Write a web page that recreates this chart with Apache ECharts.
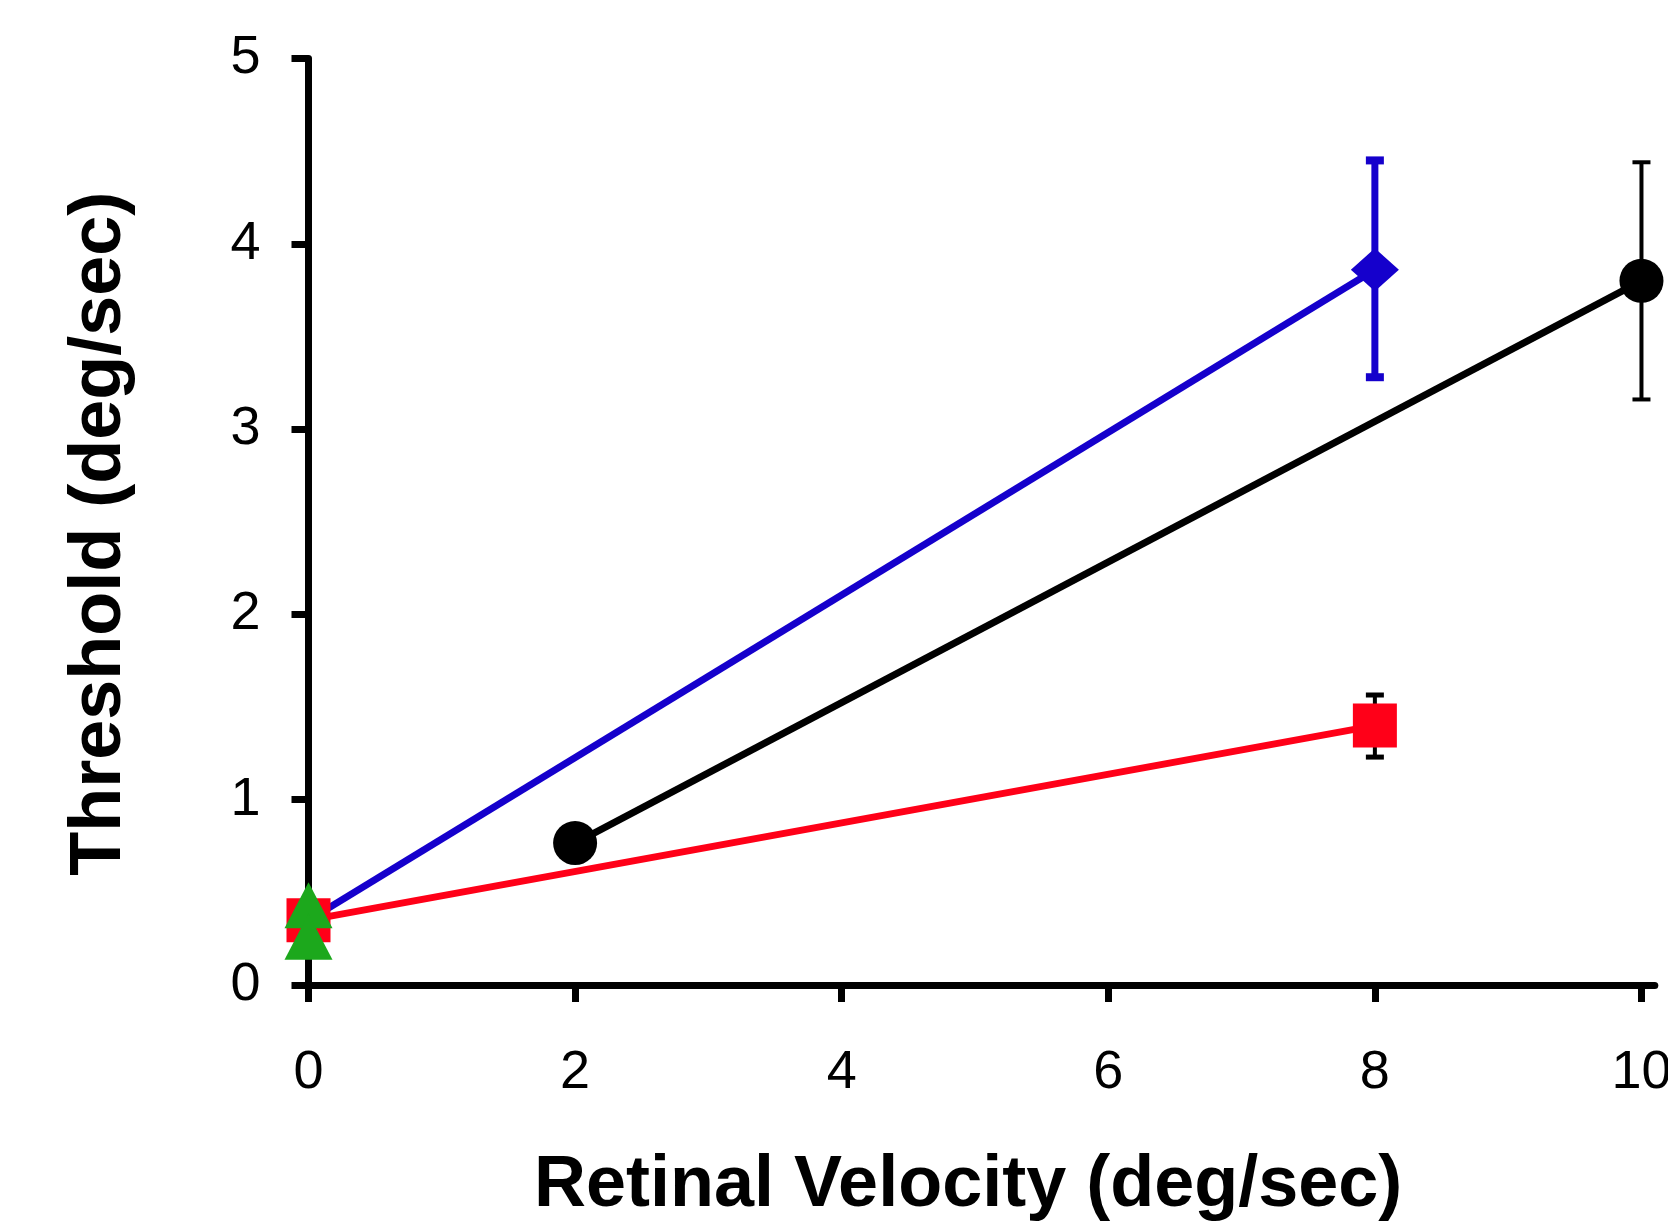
<!DOCTYPE html>
<html>
<head>
<meta charset="utf-8">
<script src="https://cdn.jsdelivr.net/npm/echarts@6/dist/echarts.min.js"></script>
<style>
html,body{margin:0;padding:0;background:#fff;}
#chart{width:1668px;height:1225px;}
</style>
</head>
<body>
<div id="chart"></div>
<script>
// ---- data ----
const xTicks = [0, 2, 4, 6, 8, 10];
const yTicks = [0, 1, 2, 3, 4, 5];

const blueX = [0, 8];
const blueY = [0.35, 3.86];
const blueErr = [[8, 3.28, 4.45]];

const blackX = [2, 10];
const blackY = [0.766, 3.80];
const blackErr = [[10, 3.16, 4.44]];

const redX = [0, 8];
const redY = [0.35, 1.40];
const redErr = [[8, 1.23, 1.565]];

const greenX = [0, 0];
const greenY = [0.43, 0.26];

const xName = 'Retinal Velocity (deg/sec)';
const yName = 'Threshold (deg/sec)';

const BLUE = '#1500cc';
const RED = '#ff0018';
const GREEN = '#1ca81c';
const BLACK = '#000000';
const FONT = '"Liberation Sans", Arial, sans-serif';

function pairs(xs, ys) { return xs.map((x, i) => [x, ys[i]]); }

function errorSeries(data, color, width, capW, capH) {
  return {
    type: 'custom',
    z: 1,
    data: data,
    silent: true,
    renderItem: function (params, api) {
      const x = api.value(0), lo = api.value(1), hi = api.value(2);
      const pLo = api.coord([x, lo]);
      const pHi = api.coord([x, hi]);
      const st = { stroke: color, lineWidth: width, lineCap: 'butt' };
      const cs = { stroke: color, lineWidth: capH, lineCap: 'butt' };
      return {
        type: 'group',
        children: [
          { type: 'line', shape: { x1: pLo[0], y1: pLo[1], x2: pHi[0], y2: pHi[1] }, style: st },
          { type: 'line', shape: { x1: pHi[0] - capW / 2, y1: pHi[1], x2: pHi[0] + capW / 2, y2: pHi[1] }, style: cs },
          { type: 'line', shape: { x1: pLo[0] - capW / 2, y1: pLo[1], x2: pLo[0] + capW / 2, y2: pLo[1] }, style: cs }
        ]
      };
    }
  };
}

const chart = echarts.init(document.getElementById('chart'), null, { renderer: 'canvas' });

const blueData = pairs(blueX, blueY).map((p, i) => i === 0 ? { value: p, symbol: 'none' } : p);

chart.setOption({
  animation: false,
  backgroundColor: '#ffffff',
  textStyle: { fontFamily: FONT },
  grid: { left: 308.5, right: 13.2, top: 58.5, bottom: 240, containLabel: false, outerBoundsMode: 'none' },
  xAxis: {
    type: 'value',
    min: 0,
    max: 10.1,
    interval: 2,
    name: xName,
    nameLocation: 'middle',
    nameGap: 165,
    nameTextStyle: { fontFamily: FONT, fontWeight: 'bold', fontSize: 72, color: '#000', padding: [0, 27, 0, 0] },
    axisLine: { show: true, onZero: false, lineStyle: { color: '#000', width: 7 } },
    axisTick: { show: true, inside: false, length: 17, lineStyle: { color: '#000', width: 7 }, customValues: xTicks },
    axisLabel: { show: true, margin: 61, fontSize: 54, color: '#000', fontFamily: FONT, customValues: xTicks },
    splitLine: { show: false }
  },
  yAxis: {
    type: 'value',
    min: 0,
    max: 5,
    interval: 1,
    name: yName,
    nameLocation: 'middle',
    nameGap: 172,
    nameRotate: 90,
    nameTextStyle: { fontFamily: FONT, fontWeight: 'bold', fontSize: 72, color: '#000', padding: [0, 24, 0, 0] },
    axisLine: { show: true, onZero: false, lineStyle: { color: '#000', width: 7 } },
    axisTick: { show: true, inside: false, length: 17, lineStyle: { color: '#000', width: 7 }, customValues: yTicks },
    axisLabel: { show: true, margin: 48, fontSize: 54, color: '#000', fontFamily: FONT, customValues: yTicks },
    splitLine: { show: false }
  },
  series: [
    errorSeries(blueErr, BLUE, 7, 18, 8),
    errorSeries(blackErr, BLACK, 4, 18, 4),
    errorSeries(redErr, BLACK, 4, 18, 5),
    {
      type: 'line', z: 2, data: pairs(redX, redY),
      symbol: 'rect', symbolSize: 44,
      lineStyle: { color: RED, width: 7 },
      itemStyle: { color: RED, opacity: 1 },
      silent: true
    },
    {
      type: 'line', z: 2, data: blueData,
      symbol: 'diamond', symbolSize: [48, 43],
      lineStyle: { color: BLUE, width: 7 },
      itemStyle: { color: BLUE, opacity: 1 },
      silent: true
    },
    {
      type: 'line', z: 2, data: pairs(blackX, blackY),
      symbol: 'circle', symbolSize: 44,
      lineStyle: { color: BLACK, width: 7 },
      itemStyle: { color: BLACK, opacity: 1 },
      silent: true
    },
    {
      type: 'scatter', z: 3, data: pairs(greenX, greenY),
      symbol: 'triangle', symbolSize: [48, 46],
      itemStyle: { color: GREEN, opacity: 1 },
      silent: true
    }
  ]
});
</script>
</body>
</html>
